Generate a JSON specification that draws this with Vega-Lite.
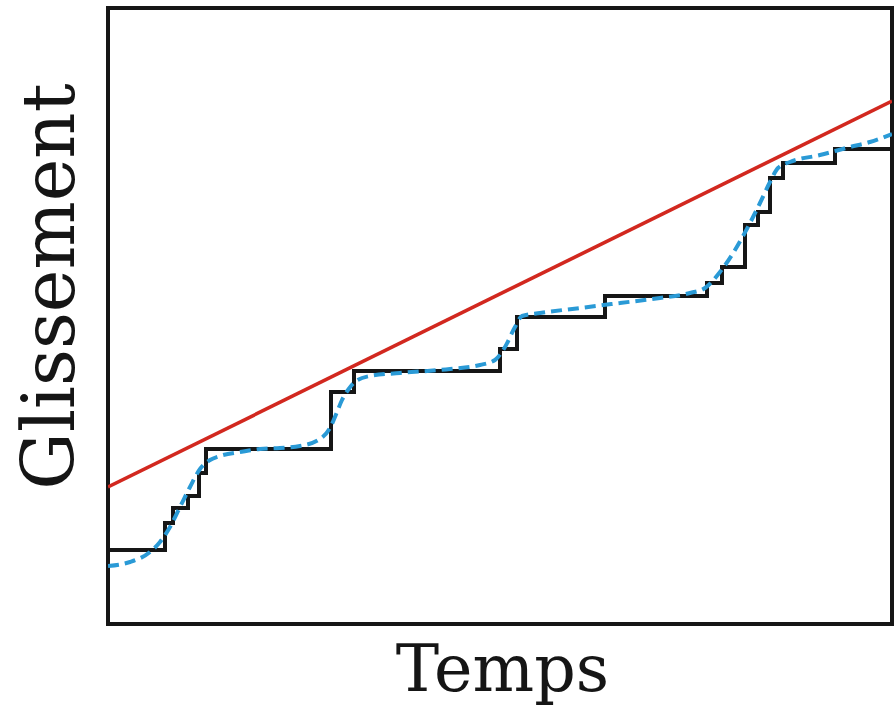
{
  "$schema": "https://vega.github.io/schema/vega-lite/v6.json",
  "width": 784,
  "height": 616,
  "autosize": {"type": "none"},
  "padding": {"left": 108, "top": 8, "right": 3, "bottom": 85},
  "background": "white",
  "config": {
    "view": {"stroke": "#161616", "strokeWidth": 4},
    "axis": {"labels": false, "ticks": false, "domain": false, "grid": false}
  },
  "datasets": {
    "stick": [
      {"t": 0, "s": 74}, {"t": 57, "s": 101}, {"t": 65, "s": 116}, {"t": 80, "s": 128},
      {"t": 91, "s": 151}, {"t": 98, "s": 175}, {"t": 223, "s": 232}, {"t": 246, "s": 253},
      {"t": 392, "s": 275}, {"t": 409, "s": 307}, {"t": 497, "s": 328}, {"t": 599, "s": 341},
      {"t": 614, "s": 357}, {"t": 637, "s": 399}, {"t": 650, "s": 412}, {"t": 662, "s": 446},
      {"t": 675, "s": 461}, {"t": 727, "s": 475}, {"t": 782, "s": 475}
    ],
    "trend": [
      {"t": 0, "s": 137}, {"t": 784, "s": 523}
    ],
    "smooth": [
      {"t": 0, "s": 58}, {"t": 22, "s": 62}, {"t": 42, "s": 72}, {"t": 52, "s": 82},
      {"t": 62, "s": 97}, {"t": 72, "s": 117}, {"t": 82, "s": 137}, {"t": 92, "s": 155},
      {"t": 102, "s": 164}, {"t": 112, "s": 168}, {"t": 132, "s": 172}, {"t": 152, "s": 175},
      {"t": 172, "s": 176}, {"t": 192, "s": 178}, {"t": 212, "s": 185}, {"t": 222, "s": 196},
      {"t": 229, "s": 212}, {"t": 234, "s": 224}, {"t": 240, "s": 234}, {"t": 248, "s": 243},
      {"t": 262, "s": 248}, {"t": 292, "s": 251}, {"t": 342, "s": 255}, {"t": 372, "s": 259},
      {"t": 387, "s": 264}, {"t": 397, "s": 277}, {"t": 407, "s": 297}, {"t": 414, "s": 308},
      {"t": 432, "s": 311}, {"t": 472, "s": 316}, {"t": 512, "s": 321}, {"t": 552, "s": 326},
      {"t": 582, "s": 331}, {"t": 597, "s": 336}, {"t": 612, "s": 352}, {"t": 627, "s": 374},
      {"t": 642, "s": 401}, {"t": 652, "s": 421}, {"t": 662, "s": 442}, {"t": 670, "s": 456},
      {"t": 682, "s": 462}, {"t": 712, "s": 469}, {"t": 742, "s": 477}, {"t": 762, "s": 482},
      {"t": 784, "s": 490}
    ]
  },
  "encoding": {
    "x": {
      "field": "t", "type": "quantitative",
      "scale": {"domain": [0, 784], "nice": false, "zero": false},
      "axis": {
        "title": "Temps", "titleFont": "DejaVu Serif", "titleFontSize": 65,
        "titleFontWeight": "normal", "titleColor": "#151515",
        "titleBaseline": "alphabetic", "titleAlign": "center", "titleX": 394, "titleY": 66
      }
    },
    "y": {
      "field": "s", "type": "quantitative",
      "scale": {"domain": [0, 616], "nice": false, "zero": false},
      "axis": {
        "title": "Glissement", "titleFont": "DejaVu Serif", "titleFontSize": 72,
        "titleFontWeight": "normal", "titleColor": "#151515", "titleAngle": 270,
        "titleBaseline": "alphabetic", "titleAlign": "center", "titleX": -35, "titleY": 278
      }
    }
  },
  "layer": [
    {
      "data": {"name": "trend"},
      "mark": {"type": "line", "color": "#d2281f", "strokeWidth": 3.6, "clip": true}
    },
    {
      "data": {"name": "stick"},
      "mark": {"type": "line", "interpolate": "step-after", "color": "#161616", "strokeWidth": 4, "strokeCap": "square", "clip": true}
    },
    {
      "data": {"name": "smooth"},
      "mark": {"type": "line", "interpolate": "monotone", "color": "#2a9ad6", "strokeWidth": 4, "strokeDash": [11, 6], "clip": true}
    }
  ]
}
